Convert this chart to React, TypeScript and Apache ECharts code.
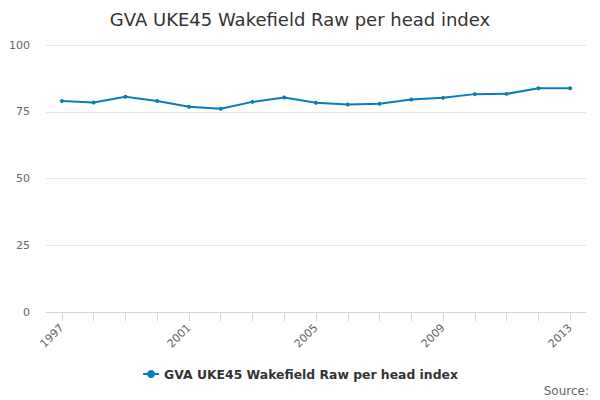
import { useEffect, useRef } from "react";
import * as echarts from "echarts";

const years = [
  "1997", "1998", "1999", "2000", "2001", "2002", "2003", "2004", "2005",
  "2006", "2007", "2008", "2009", "2010", "2011", "2012", "2013",
];
const indexValues = [
  79.0, 78.5, 80.6, 79.0, 76.9, 76.1, 78.7, 80.3, 78.4,
  77.7, 78.0, 79.6, 80.2, 81.6, 81.7, 83.8, 83.8,
];
const seriesName = "GVA UKE45 Wakefield Raw per head index";

const FONT = "DejaVu Sans, Verdana, sans-serif";
const LINE_COLOR = "#0a7bbf";

export default function App() {
  const chartRef = useRef<HTMLDivElement>(null);

  useEffect(() => {
    if (!chartRef.current) return;
    const chart = echarts.init(chartRef.current, undefined, { renderer: "svg" });

    chart.setOption({
      animation: false,
      textStyle: { fontFamily: FONT },
      title: {
        text: seriesName,
        left: "center",
        top: 5,
        textStyle: { fontSize: 18, fontWeight: "normal", color: "#333333", fontFamily: FONT },
      },
      grid: { left: 46, right: 14, top: 45, bottom: 88 },
      xAxis: {
        type: "category",
        data: years,
        boundaryGap: true,
        axisLine: { show: true, lineStyle: { color: "#ccd6eb" } },
        axisTick: {
          show: true,
          alignWithLabel: true,
          interval: 0,
          length: 9,
          lineStyle: { color: "#ccd6eb", width: 1 },
        },
        axisLabel: { interval: 3, rotate: 45, color: "#666666", fontSize: 11, margin: 14 },
        splitLine: { show: false },
      },
      yAxis: {
        type: "value",
        min: 0,
        max: 100,
        interval: 25,
        axisLine: { show: false },
        axisTick: { show: false },
        axisLabel: { color: "#666666", fontSize: 11, margin: 16 },
        splitLine: { lineStyle: { color: "#e6e6e6" } },
      },
      legend: {
        bottom: 15,
        left: "center",
        itemWidth: 16,
        itemHeight: 10,
        textStyle: { fontSize: 12.4, fontWeight: "bold", color: "#333333" },
        data: [seriesName],
      },
      graphic: [
        {
          type: "text",
          right: 11,
          bottom: 3,
          style: { text: "Source:", fontSize: 12, fill: "#666666", fontFamily: FONT },
        },
      ],
      series: [
        {
          name: seriesName,
          type: "line",
          data: indexValues,
          color: LINE_COLOR,
          symbol: "circle",
          symbolSize: 4,
          lineStyle: { width: 2, color: LINE_COLOR },
          itemStyle: { color: LINE_COLOR },
        },
      ],
    });

    return () => chart.dispose();
  }, []);

  return (
    <div
      ref={chartRef}
      style={{ position: "absolute", left: 0, top: 0, width: 600, height: 400, background: "#fff" }}
    />
  );
}
